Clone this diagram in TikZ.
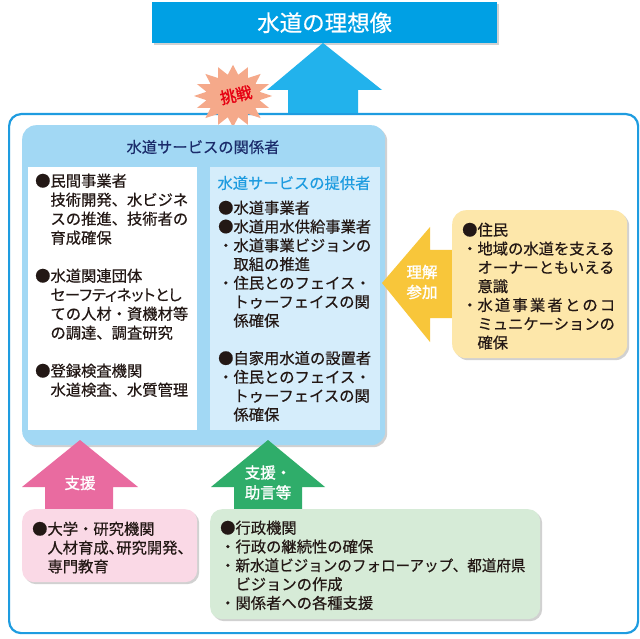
\documentclass[tikz,border=0pt]{standalone}
\usepackage{fontspec}
\usepackage{graphicx}
\setmainfont{Noto Sans CJK JP}[FakeBold=0.5]
\newfontfamily\pf[RawFeature=+palt,FakeBold=0.5]{Noto Sans CJK JP}
\newfontfamily\fb[FakeBold=1.5]{Noto Sans CJK JP}
\usetikzlibrary{shadows}
\definecolor{titleblue}{HTML}{00A0E4}
\definecolor{arrowblue}{HTML}{22B2EC}
\definecolor{outerblue}{HTML}{1E9CE0}
\definecolor{stakeblue}{HTML}{A2D8F4}
\definecolor{provblue}{HTML}{D5EDFB}
\definecolor{provtitle}{HTML}{1E9CE0}
\definecolor{navy}{HTML}{1B2C6B}
\definecolor{arrowyellow}{HTML}{F8C63A}
\definecolor{boxyellow}{HTML}{FDE7AA}
\definecolor{arrowpink}{HTML}{E96BA0}
\definecolor{boxpink}{HTML}{FAD9E6}
\definecolor{arrowgreen}{HTML}{2FAD6A}
\definecolor{boxgreen}{HTML}{D6EBD7}
\definecolor{burstfill}{HTML}{F5A98A}
\definecolor{burstred}{HTML}{E60012}
\definecolor{txt}{HTML}{231815}
\begin{document}
\begin{tikzpicture}[x=1pt,y=-1pt,
  panel/.style={anchor=north west, inner sep=0pt, draw=none},
  shad/.style={drop shadow={shadow xshift=2pt, shadow yshift=-2pt, opacity=0.18, fill=black}},
  textblock/.style={anchor=north west, inner sep=0pt, align=left, text=txt,
    font=\fontsize{15.3}{18.8}\selectfont},
  lbl/.style={inner sep=0pt, align=center, text=white, font=\fb\fontsize{15.5}{20}\selectfont}]
\useasboundingbox (0,0) rectangle (640,639);
\fill[white] (0,0) rectangle (640,639);

% title
\node[panel, fill=titleblue, shad, minimum width=345pt, minimum height=41pt] (title) at (152,2) {};
\node[text=white, inner sep=0pt, font=\fontsize{22.5}{24}\selectfont] (titletext) at (title.center) {水道の理想像};

% outer frame
\node[panel, draw=outerblue, line width=2.2pt, rounded corners=12pt, minimum width=629pt, minimum height=519pt] (outer) at (8,113) {};

% big up arrow
\fill[arrowblue] (288,113) -- (288,90) -- (267,90) -- (323,43) -- (382,90) -- (358,90) -- (358,113) -- cycle;

% starburst
\fill[burstfill] plot[samples=33, domain=0:32, variable=\t]
  ({233+cos(\t*360/32)*(33+6*cos(\t*180))}, {96+0.8*sin(\t*360/32)*(33+6*cos(\t*180))}) -- cycle;
\node[text=burstred, inner sep=0pt, rotate=12, font=\fb\fontsize{16}{16}\selectfont] (challenge) at (236,95) {挑戦};

% stakeholders box
\node[panel, fill=stakeblue, shad, rounded corners=14pt, minimum width=363pt, minimum height=320pt] (stake) at (22,125) {};
\node[text=navy, inner sep=0pt, font=\fontsize{15.3}{16}\selectfont] (staketitle) at (203,147) {水道サービスの関係者};
\node[panel, fill=white, minimum width=169pt, minimum height=263pt] (leftbox) at (28,167) {};
\node[panel, fill=provblue, minimum width=170pt, minimum height=263pt] (provbox) at (210,167) {};
\node[text=provtitle, inner sep=0pt, font=\fontsize{15.3}{16}\selectfont] (provtitle) at (294,183) {水道サービスの提供者};

\node[textblock, font=\fontsize{15.3}{19}\selectfont] (lefttext) at (35,173.5) {●民間事業者\\
\hspace*{1em}技術開発、水ビジネ\\
\hspace*{1em}スの推進、技術者の\\
\hspace*{1em}育成確保\\[19pt]
●水道関連団体\\
\hspace*{1em}{\pf セーフティネットとし}\\
\hspace*{1em}ての人材・資機材等\\
\hspace*{1em}の調達、調査研究\\[19pt]
●登録検査機関\\
\hspace*{1em}水道検査、水質管理};

\node[textblock] (provtext) at (218,200.5) {●水道事業者\\
●水道用水供給事業者\\
・水道事業ビジョンの\\
\hspace*{1em}取組の推進\\
・住民とのフェイス・\\
\hspace*{1em}トゥーフェイスの関\\
\hspace*{1em}係確保\\[18.8pt]
●自家用水道の設置者\\
・住民とのフェイス・\\
\hspace*{1em}トゥーフェイスの関\\
\hspace*{1em}係確保};

% residents
\fill[arrowyellow] (453,250) -- (430,250) -- (430,227) -- (382,283) -- (430,342) -- (430,318) -- (453,318) -- cycle;
\node[panel, fill=boxyellow, shad, rounded corners=14pt, minimum width=175pt, minimum height=148pt] (resbox) at (452,210) {};
\node[lbl] (reslabel) at (422,282) {理解\\参加};
\node[textblock] (restext) at (462,222.5) {●住民\\
・地域の水道を支える\\
\hspace*{1em}オーナーともいえる\\
\hspace*{1em}意識\\
・\makebox[9em][s]{水\hfill 道\hfill 事\hfill 業\hfill 者\hfill と\hfill の\hfill コ}\\
\hspace*{1em}ミュニケーションの\\
\hspace*{1em}確保};

% universities
\fill[arrowpink] (45,511) -- (45,487) -- (22,487) -- (80,440) -- (138,487) -- (113,487) -- (113,511) -- cycle;
\node[lbl] (unilabel) at (80,483) {支援};
\node[panel, fill=boxpink, shad, rounded corners=12pt, minimum width=175pt, minimum height=73pt] (unibox) at (22,509) {};
\node[textblock] (unitext) at (32,521.5) {●大学・研究機関\\
\hspace*{1em}{\pf 人材育成、研究開発、}\\
\hspace*{1em}専門教育};

% administration
\fill[arrowgreen] (234,511) -- (234,487) -- (211,487) -- (268,440) -- (325,487) -- (302,487) -- (302,511) -- cycle;
\node[lbl] (govlabel) at (268,482.5) {支援・\\助言等};
\node[panel, fill=boxgreen, shad, rounded corners=12pt, minimum width=330pt, minimum height=110pt] (govbox) at (210,509) {};
\node[textblock] (govtext) at (220,520.5) {●行政機関\\
・行政の継続性の確保\\
・\scalebox{0.951}[1]{新水道ビジョンのフォローアップ、都道府県}\\
\hspace*{1em}ビジョンの作成\\
・関係者への各種支援};
\end{tikzpicture}
\end{document}
